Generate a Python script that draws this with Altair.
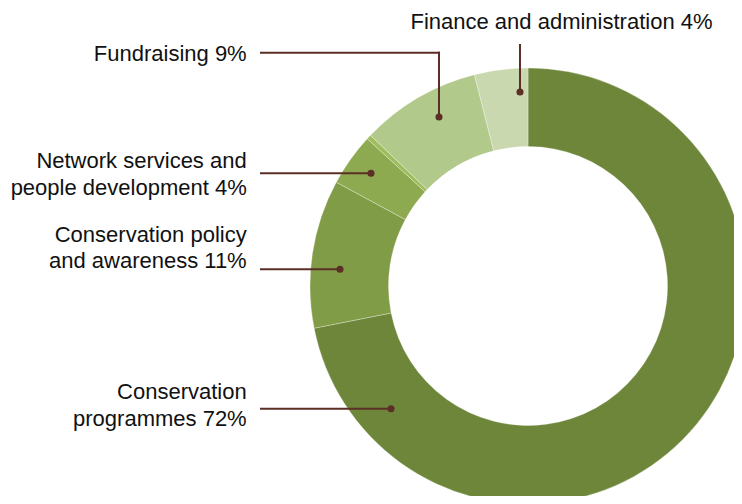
import altair as alt
import pandas as pd

# ---- data ----
categories = [
    "Conservation programmes",
    "Conservation policy and awareness",
    "Network services and people development",
    "Other",
    "Fundraising",
    "Finance and administration",
]
shares = [71.9, 11.0, 3.9, 0.35, 8.9, 3.95]
label_pct = ["72%", "11%", "4%", "", "9%", "4%"]
colors = ["#6d863a", "#809c47", "#8eaa50", "#9fbd5d", "#b2c98c", "#c9d8ae"]

# ---- label text lines ----
label_lines = [
    ["Conservation", "programmes 72%"],
    ["Conservation policy", "and awareness 11%"],
    ["Network services and", "people development 4%"],
    [],
    ["Fundraising 9%"],
    ["Finance and administration 4%"],
]

# ---- layout (pixels, chart coordinates) ----
W, H = 726, 488
CX, CY = 520, 278
R_OUT, R_IN = 218, 139.5
INK = "#5b2f26"
FONT = "Liberation Sans"
FS = 22

# label anchor: (x, first baseline, align)
label_anchor = [
    (238.7, 391.3, "right"),
    (238.7, 233.7, "right"),
    (238.7, 160.3, "right"),
    None,
    (238.7, 52.5, "right"),
    (553.5, 21.3, "center"),
]
LINE_H = 26.7
# leader segments per category: list of (x, y, x2, y2); dot = end of last segment
leaders = [
    [(253, 400.7, 383, 400.7)],
    [(253, 261.3, 332, 261.3)],
    [(253, 165.3, 363, 165.3)],
    [],
    [(253, 44.7, 431, 44.7), (431, 44.7, 431, 109)],
    [(512, 37, 512, 84)],
]

arc_df = pd.DataFrame({
    "category": categories,
    "share": shares,
    "idx": list(range(len(categories))),
})

seg_rows, dot_rows, txt_rows = [], [], []
for i, cat in enumerate(categories):
    for (x, y, x2, y2) in leaders[i]:
        seg_rows.append({"x": x, "y": y, "x2": x2, "y2": y2})
    if leaders[i]:
        x, y, x2, y2 = leaders[i][-1]
        dot_rows.append({"x": x2, "y": y2})
    if label_anchor[i] is not None:
        lx, ly, al = label_anchor[i]
        for k, line in enumerate(label_lines[i]):
            txt_rows.append({"x": lx, "y": ly + k * LINE_H, "t": line, "align": al})

seg_df = pd.DataFrame(seg_rows)
dot_df = pd.DataFrame(dot_rows)
txt_df = pd.DataFrame(txt_rows)

xs = alt.Scale(domain=[0, W], range=[0, W])
ys = alt.Scale(domain=[0, H], range=[0, H])

donut = alt.Chart(arc_df).mark_arc(
    outerRadius=R_OUT, innerRadius=R_IN, stroke="#ffffff", strokeWidth=0.6, strokeOpacity=0.5
).encode(
    theta=alt.Theta("share:Q", stack=True),
    order=alt.Order("idx:Q"),
    color=alt.Color("category:N", scale=alt.Scale(domain=categories, range=colors), legend=None),
    x=alt.value(CX),
    y=alt.value(CY),
)

rules = alt.Chart(seg_df).mark_rule(color=INK, strokeWidth=2, strokeCap="square").encode(
    x=alt.X("x:Q", scale=xs, axis=None),
    y=alt.Y("y:Q", scale=ys, axis=None),
    x2="x2:Q",
    y2="y2:Q",
)

dots = alt.Chart(dot_df).mark_point(filled=True, color=INK, size=50, opacity=1).encode(
    x=alt.X("x:Q", scale=xs, axis=None),
    y=alt.Y("y:Q", scale=ys, axis=None),
)

txt_right = alt.Chart(txt_df[txt_df["align"] == "right"]).mark_text(
    align="right", baseline="alphabetic", font=FONT, fontSize=FS, color="#111111"
).encode(
    x=alt.X("x:Q", scale=xs, axis=None),
    y=alt.Y("y:Q", scale=ys, axis=None),
    text="t:N",
)
txt_center = alt.Chart(txt_df[txt_df["align"] == "center"]).mark_text(
    align="center", baseline="alphabetic", font=FONT, fontSize=FS, color="#111111"
).encode(
    x=alt.X("x:Q", scale=xs, axis=None),
    y=alt.Y("y:Q", scale=ys, axis=None),
    text="t:N",
)

chart = alt.layer(donut, rules, dots, txt_right, txt_center).properties(
    width=W, height=H, autosize=alt.AutoSizeParams(type="none"), padding=0
).configure_view(stroke=None)

chart.save("out.html", embed_options={"renderer": "svg", "actions": False})
